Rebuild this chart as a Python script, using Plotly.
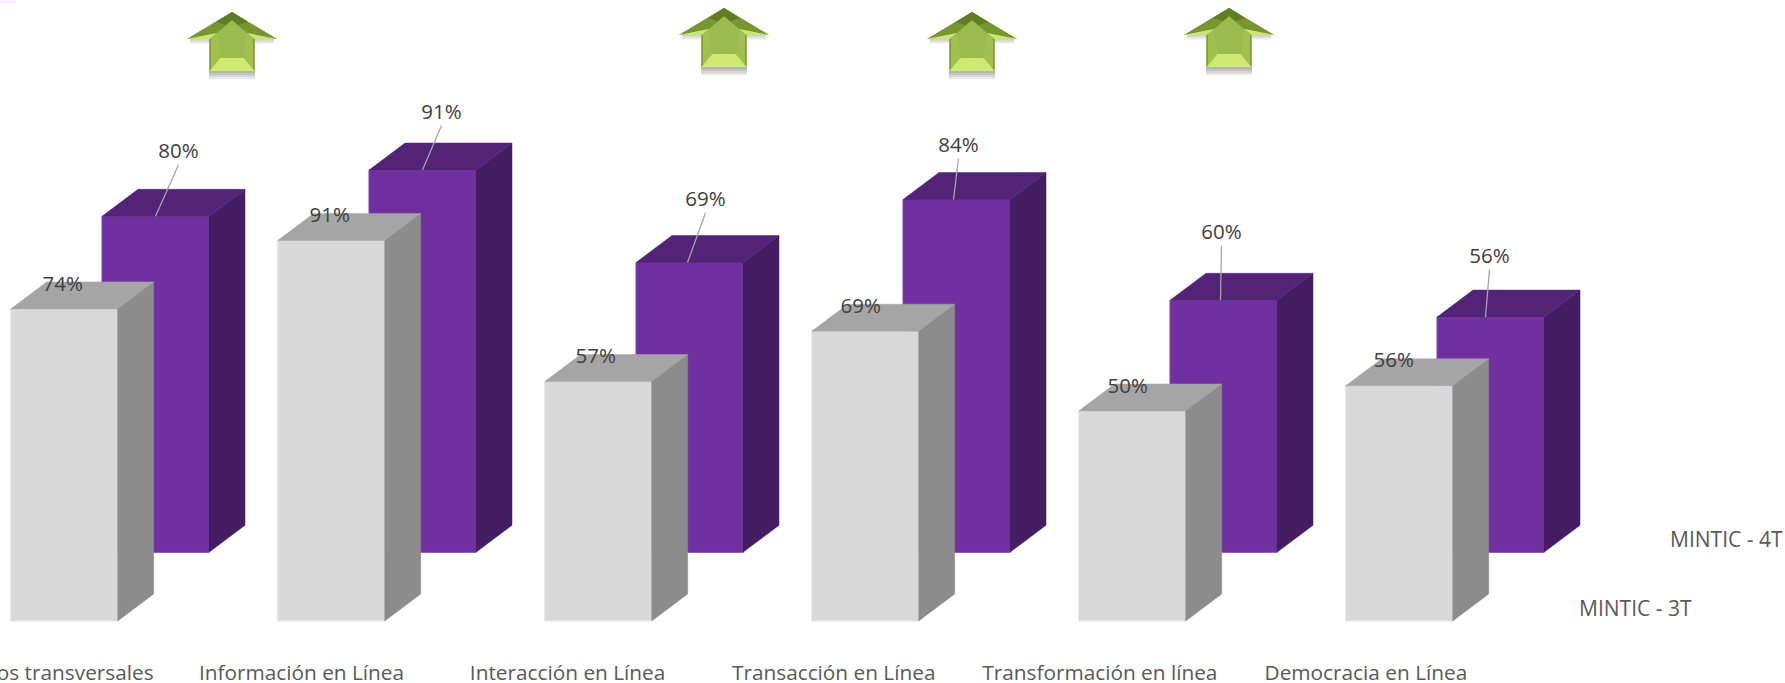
import plotly.graph_objects as go

# ---- data ----
categories = ["Elementos transversales", "Información en Línea", "Interacción en Línea",
              "Transacción en Línea", "Transformación en línea", "Democracia en Línea"]
series_3t_name = "MINTIC - 3T"
series_4t_name = "MINTIC - 4T"
values_3t = [74.3, 90.6, 57, 69, 50, 56]
values_4t = [80, 91, 69, 84, 60, 56]

# ---- geometry (pixels of the 1785x683 page) ----
W, H = 1785, 683
PLOT_BOTTOM = 658
ZERO_PX = 621.0
FIRST_CENTER_PX = 64.2
PX_PER_CAT = 267.0
PX_PER_PCT = 4.2
BAR_W = 107 / PX_PER_CAT
DEPTH_X = 36 / PX_PER_CAT
DEPTH_Y = 27 / PX_PER_PCT
BACK_X = 91.3 / PX_PER_CAT
BACK_Y = 68.7 / PX_PER_PCT

def dx(px):
    return (px - FIRST_CENTER_PX) / PX_PER_CAT
def dy(py):
    return (ZERO_PX - py) / PX_PER_PCT

FONT = "Open Sans"
idx = list(range(len(categories)))


def faces(values, xoff, base):
    side_x, side_y, top_x, top_y = [], [], [], []
    for i, v in zip(idx, values):
        l = i + xoff - BAR_W / 2
        r = i + xoff + BAR_W / 2
        t = base + v
        side_x += [r, r + DEPTH_X, r + DEPTH_X, r, r, None]
        side_y += [base, base + DEPTH_Y, t + DEPTH_Y, t, base, None]
        top_x += [l, l + DEPTH_X, r + DEPTH_X, r, l, None]
        top_y += [t, t + DEPTH_Y, t + DEPTH_Y, t, t, None]
    return side_x, side_y, top_x, top_y


def add_series(fig, name, values, xoff, base, front, side, top, edge, z):
    fig.add_trace(go.Bar(x=[i + xoff for i in idx], y=values, base=[base] * len(values),
                         width=BAR_W, name=name, zorder=z,
                         marker=dict(color=front, line=dict(color=edge, width=1))))
    sx, sy, tx, ty = faces(values, xoff, base)
    for fx, fy, col in ((sx, sy, side), (tx, ty, top)):
        fig.add_trace(go.Scatter(x=fx, y=fy, mode="lines", fill="toself", fillcolor=col,
                                 line=dict(color=col, width=0.5), hoverinfo="skip",
                                 zorder=z + 1, showlegend=False))


fig = go.Figure()
add_series(fig, series_4t_name, values_4t, BACK_X, BACK_Y, "#7030A0", "#451D62", "#522377", "#7D45AA", 1)
add_series(fig, series_3t_name, values_3t, 0, 0, "#D9D9D9", "#8C8C8C", "#A5A5A5", "#E6E6E6", 3)

# leader lines + value labels, back series
label_dx_4t = [23, 19, 16, 2, -2, -1]
label_up_4t = [63.5, 56.5, 61.5, 53, 66.5, 59.5]
leader_dx_4t = [0, 0, -2, -3, -3, -5]
LEADER_GAP = 12
lx, ly, tx4, ty4 = [], [], [], []
for i, v, ldx, up, edx in zip(idx, values_4t, label_dx_4t, label_up_4t, leader_dx_4t):
    c = i + BACK_X
    t = BACK_Y + v
    lab_x = c + ldx / PX_PER_CAT
    lab_y = t + up / PX_PER_PCT
    tx4.append(lab_x)
    ty4.append(lab_y)
    lx += [lab_x, c + edx / PX_PER_CAT, None]
    ly += [lab_y - LEADER_GAP / PX_PER_PCT, t, None]
fig.add_trace(go.Scatter(x=lx, y=ly, mode="lines", line=dict(color="#A6A6A6", width=1.3),
                         hoverinfo="skip", zorder=5, showlegend=False))
fig.add_trace(go.Scatter(x=tx4, y=ty4, mode="text", text=[f"{round(v)}%" for v in values_4t],
                         textposition="middle center", textfont=dict(family=FONT, size=20.5, color="#404040"),
                         hoverinfo="skip", zorder=6, showlegend=False))
# value labels, front series
label_dx_3t = [-1.5, -1.5, -2.5, -4.5, -4.5, -5.5]
LABEL_UP_3T = 23.5
fig.add_trace(go.Scatter(x=[i + d / PX_PER_CAT for i, d in zip(idx, label_dx_3t)],
                         y=[v + LABEL_UP_3T / PX_PER_PCT for v in values_3t],
                         mode="text", text=[f"{round(v)}%" for v in values_3t],
                         textposition="middle center", textfont=dict(family=FONT, size=20.5, color="#404040"),
                         hoverinfo="skip", zorder=6, showlegend=False))

# ---- decorative arrows ----
arrow_centers_px = [232, 724, 972, 1229]
arrow_tops_px = [12, 8, 12, 8]


def poly(cx, top, pts, color, opacity=1.0):
    path = ""
    for k, (a, b) in enumerate(pts):
        path += ("M" if k == 0 else "L") + f"{dx(cx + a):.5f},{dy(top + b):.4f} "
    return dict(type="path", path=path + "Z", xref="x", yref="y", fillcolor=color,
                opacity=opacity, line=dict(width=0), layer="above")


shapes = []
for cx, top in zip(arrow_centers_px, arrow_tops_px):
    for s in (2, 4, 6, 8):
        shapes.append(poly(cx, top, [(-23, 59), (23, 59), (23, 59 + s), (-23, 59 + s)], "#555555", 0.13))
        shapes.append(poly(cx, top, [(-42, 27), (-22, 27), (-22, 27 + s * 0.6), (-42, 27 + s * 0.6)], "#555555", 0.08))
        shapes.append(poly(cx, top, [(42, 27), (22, 27), (22, 27 + s * 0.6), (42, 27 + s * 0.6)], "#555555", 0.08))
    # whole silhouette
    shapes.append(poly(cx, top, [(0, 0), (45, 27), (22.5, 27), (22.5, 59), (-22.5, 59), (-22.5, 27), (-45, 27)], "#9BBB4F"))
    # dark upper bevels
    shapes.append(poly(cx, top, [(0, 0), (-45, 27), (-15, 21), (0, 8)], "#76962F"))
    shapes.append(poly(cx, top, [(0, 0), (45, 27), (15, 21), (0, 8)], "#76962F"))
    shapes.append(poly(cx, top, [(0, 0), (-16, 10), (-6, 13), (0, 8)], "#5F7D25"))
    shapes.append(poly(cx, top, [(0, 0), (16, 10), (6, 13), (0, 8)], "#5F7D25"))
    # light slivers under the head
    shapes.append(poly(cx, top, [(-45, 27), (-15, 21), (-22.5, 27)], "#CBE570"))
    shapes.append(poly(cx, top, [(45, 27), (15, 21), (22.5, 27)], "#CBE570"))
    # shaft side bevels
    shapes.append(poly(cx, top, [(-22.5, 27), (-15, 21), (-11.5, 46), (-22.5, 59)], "#A2C052"))
    shapes.append(poly(cx, top, [(22.5, 27), (15, 21), (11.5, 46), (22.5, 59)], "#A2C052"))
    shapes.append(poly(cx, top, [(-22.5, 27), (-21, 27), (-21, 57.5), (-22.5, 59)], "#7F9F35"))
    shapes.append(poly(cx, top, [(22.5, 27), (21, 27), (21, 57.5), (22.5, 59)], "#7F9F35"))
    # light bottom bevel
    shapes.append(poly(cx, top, [(-22.5, 59), (22.5, 59), (11.5, 46), (-11.5, 46)], "#CFEA72"))

# faint smudge in the upper-left corner
shapes.append(dict(type="rect", xref="x", yref="y", x0=dx(0), x1=dx(16), y0=dy(0), y1=dy(3),
                   fillcolor="#F6EEF8", line=dict(width=0), layer="below"))

annotations = [
    dict(text=series_4t_name, x=dx(1668), y=dy(539), xref="x", yref="y", xanchor="left", yanchor="middle",
         showarrow=False, font=dict(family=FONT, size=21, color="#595959")),
    dict(text=series_3t_name, x=dx(1577), y=dy(608), xref="x", yref="y", xanchor="left", yanchor="middle",
         showarrow=False, font=dict(family=FONT, size=21, color="#595959")),
]

fig.update_layout(
    width=W, height=H, autosize=False,
    margin=dict(l=0, r=0, t=0, b=H - PLOT_BOTTOM, pad=0),
    paper_bgcolor="white", plot_bgcolor="white",
    barmode="overlay", showlegend=False,
    shapes=shapes, annotations=annotations,
    xaxis=dict(range=[dx(0), dx(W)], tickmode="array",
               tickvals=[i - 29.7 / PX_PER_CAT - (i - 1) * 0.9 / PX_PER_CAT for i in idx], ticktext=categories,
               showgrid=False, zeroline=False, showline=False, ticks="", ticklen=0,
               tickangle=0, ticklabeloverflow="allow",
               tickfont=dict(family=FONT, size=20.8, color="#595959"), automargin=False),
    yaxis=dict(range=[dy(PLOT_BOTTOM), dy(0)], visible=False, showgrid=False, zeroline=False, automargin=False),
)
fig.write_html("out.html", config={"displayModeBar": False},
               post_script="document.body.style.margin='0';document.documentElement.style.overflow='hidden';")
